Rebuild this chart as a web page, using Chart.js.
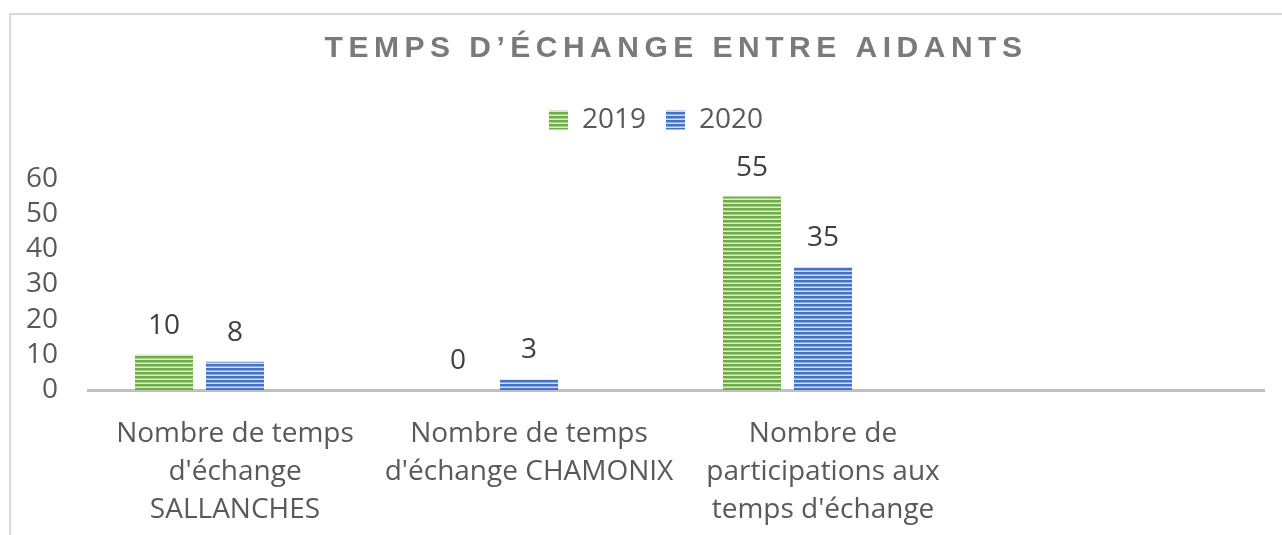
<!DOCTYPE html>
<html>
<head>
<meta charset="utf-8">
<script src="https://cdn.jsdelivr.net/npm/chart.js@4.4.1/dist/chart.umd.min.js"></script>
<style>
  html, body { margin: 0; padding: 0; background: #fff; }
  #wrap { position: relative; width: 1282px; height: 535px; }
</style>
</head>
<body>
<div id="wrap"><canvas id="chart" width="1282" height="535"></canvas></div>
<script>
// ---- Data ----
const categories = [
  ["Nombre de temps", "d'échange", "SALLANCHES"],
  ["Nombre de temps", "d'échange CHAMONIX"],
  ["Nombre de", "participations aux", "temps d'échange"],
  ""
];
const serie2019 = [10, 0, 55, null];
const serie2020 = [8, 3, 35, null];
const serieVide = [null, null, null, null]; // empty third series (keeps Excel's slot)
const yTicks = [0, 10, 20, 30, 40, 50, 60];
const chartTitle = "TEMPS D’ÉCHANGE ENTRE AIDANTS";

const textColor = "#595959";
const fontFamily = "'Open Sans', sans-serif";

// striped fill like the Excel pattern
function stripes(dark, mid, light) {
  const c = document.createElement("canvas");
  c.width = 4; c.height = 4;
  const g = c.getContext("2d");
  g.fillStyle = dark;  g.fillRect(0, 0, 4, 2);
  g.fillStyle = mid;   g.fillRect(0, 2, 4, 1);
  g.fillStyle = light; g.fillRect(0, 3, 4, 1);
  return g.createPattern(c, "repeat");
}
const ctx = document.getElementById("chart").getContext("2d");
const greenFill = stripes("#70ad47", "#a9d18e", "#d9ead0");
const blueFill = stripes("#4472c4", "#8faadc", "#d0dcf0");

// frame around the chart object (partly cropped in the picture)
const framePlugin = {
  id: "frame",
  beforeDraw(chart) {
    const c = chart.ctx;
    c.save();
    c.strokeStyle = "#d9d9d9";
    c.lineWidth = 2;
    c.beginPath();
    c.moveTo(10, chart.height);
    c.lineTo(10, 14);
    c.lineTo(chart.width, 14);
    c.stroke();
    c.restore();
  }
};

// title with letter spacing (the built-in title can't do it)
const titlePlugin = {
  id: "spacedTitle",
  afterDraw(chart) {
    const c = chart.ctx;
    c.save();
    c.font = "bold 30px 'Liberation Sans', Arial, sans-serif";
    c.letterSpacing = "5.5px";
    c.fillStyle = "#7a7a7a";
    c.textAlign = "center";
    c.textBaseline = "middle";
    c.fillText(chartTitle, 676, 49);
    c.restore();
  }
};

// value labels above the bars
const valuePlugin = {
  id: "values",
  afterDatasetsDraw(chart) {
    const c = chart.ctx;
    c.save();
    c.font = "28px " + fontFamily;
    c.fillStyle = "#404040";
    c.textAlign = "center";
    c.textBaseline = "middle";
    chart.data.datasets.forEach((ds, i) => {
      const meta = chart.getDatasetMeta(i);
      meta.data.forEach((bar, j) => {
        const v = ds.data[j];
        if (v === null || v === undefined) return;
        c.fillText(String(v), bar.x, bar.y - 29);
      });
    });
    c.restore();
  }
};

// extra gap below the legend, and legend centred like Excel's
const legendTweak = {
  id: "legendTweak",
  beforeInit(chart) {
    const origFit = chart.legend.fit;
    chart.legend.fit = function () {
      origFit.bind(chart.legend)();
      this.height += 35;
    };
  },
  afterLayout(chart) {
    chart.legend.left += 24;
    chart.legend.right += 24;
  }
};

new Chart(ctx, {
  type: "bar",
  data: {
    labels: categories,
    datasets: [
      { label: "2019", data: serie2019, backgroundColor: greenFill, borderWidth: 0 },
      { label: "2020", data: serie2020, backgroundColor: blueFill, borderWidth: 0 },
      { label: "", data: serieVide, backgroundColor: "rgba(0,0,0,0)", borderWidth: 0 }
    ]
  },
  options: {
    responsive: false,
    animation: false,
    categoryPercentage: 0.7245,
    barPercentage: 0.817,
    layout: { padding: { top: 86, right: 18, left: 0, bottom: 0 } },
    plugins: {
      legend: {
        position: "top",
        labels: {
          filter: item => item.text !== "",
          boxWidth: 19,
          boxHeight: 19,
          padding: 20,
          color: textColor,
          font: { family: fontFamily, size: 28 }
        }
      },
      title: { display: false },
      tooltip: { enabled: false }
    },
    scales: {
      x: {
        grid: { display: false, drawTicks: false },
        border: { display: true, color: "#bfbfbf", width: 3 },
        ticks: {
          color: textColor,
          padding: 25,
          maxRotation: 0,
          autoSkip: false,
          font: { family: fontFamily, size: 28, lineHeight: 1.357 }
        },
        afterFit: s => { s.height = 145; }
      },
      y: {
        min: 0,
        max: 60,
        grid: { display: false, drawTicks: false },
        border: { display: false },
        afterBuildTicks: s => { s.ticks = yTicks.map(v => ({ value: v })); },
        ticks: {
          color: textColor,
          padding: 30,
          autoSkip: false,
          font: { family: fontFamily, size: 28 }
        },
        afterFit: s => { s.width = 88; }
      }
    }
  },
  plugins: [framePlugin, titlePlugin, valuePlugin, legendTweak]
});
</script>
</body>
</html>
